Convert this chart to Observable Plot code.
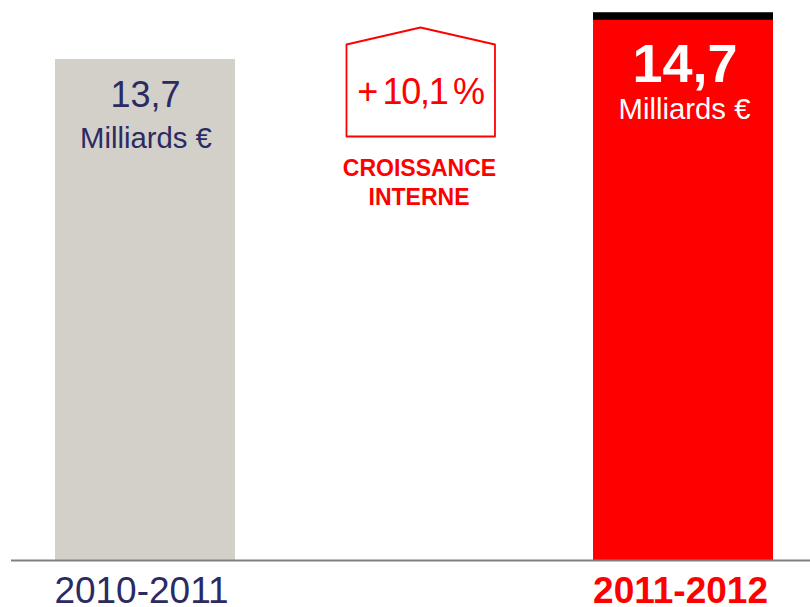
<!DOCTYPE html>
<html><head><meta charset="utf-8">
<script src="https://cdn.jsdelivr.net/npm/d3@7"></script>
<script src="https://cdn.jsdelivr.net/npm/@observablehq/plot@0.6"></script>
<style>html,body{margin:0;padding:0;background:#fff}svg{display:block}.pct{letter-spacing:-.035em;word-spacing:-.09em}</style>
</head><body><div id="c"></div>
<script>
const periods = ["2010-2011", "", "2011-2012"];
const barPeriods = ["2010-2011", "2011-2012"];
const mainValues = [13.7, 14.77];
const capValues = [0, 0.21];
const valueLabels = ["13,7", "14,7"];
const unitLabel = "Milliards €";
const growthLabel = "+ 10,1 %";
const growthCaption = ["CROISSANCE", "INTERNE"];
const RED = "#ff0000", NAVY = "#2b2a63", GREY = "#d2d0c9", FONT = "Liberation Sans";

const bars = barPeriods.map((p, i) => ({p, v: mainValues[i], c: capValues[i]}));
const label = (text, period, y, o) => Plot.text([text], {
  x: () => period, y: () => y, text: d => d, fontFamily: FONT, textAnchor: "middle", ...o
});

const chart = Plot.plot({
  width: 810, height: 607, marginLeft: 11, marginRight: 0, marginTop: 0, marginBottom: 47,
  x: {domain: periods, range: [55, 773], paddingInner: 0.331, paddingOuter: 0, round: false, axis: null},
  y: {domain: [0, 15], range: [560, 11.5], axis: null},
  marks: [
    Plot.barY(bars, {x: "p", y1: 0, y2: "v", fill: d => d.p === barPeriods[0] ? GREY : RED}),
    Plot.barY([bars[1]], {x: "p", y1: "v", y2: d => d.v + d.c, fill: "#000000"}),
    Plot.ruleY([0], {stroke: "#808080", strokeWidth: 2}),
    label(valueLabels[0], barPeriods[0], mainValues[0], {dy: 36, fontSize: 36, fill: NAVY}),
    label(unitLabel, barPeriods[0], mainValues[0], {dy: 79, dx: 0.5, fontSize: 29.3, fill: NAVY}),
    label(valueLabels[1], barPeriods[1], mainValues[1] + capValues[1], {dy: 52, dx: 1.5, fontSize: 54, fontWeight: "bold", fill: "#ffffff"}),
    label(unitLabel, barPeriods[1], mainValues[1] + capValues[1], {dy: 97, dx: 1, fontSize: 29.3, fill: "#ffffff"}),
    // the band scale adds half a bandwidth to x, which dx takes back
    Plot.line([[346, 44], [420, 27], [494.5, 44], [494.5, 136], [346, 136]], {
      x: {value: d => d[0], scale: null}, y: {value: d => d[1], scale: null}, dx: -90,
      curve: "linear-closed", stroke: RED, strokeWidth: 1.8, fill: "none"
    }),
    label(growthLabel, "", 12.8, {dy: 0, dx: 6, fontSize: 36, fill: RED, className: "pct"}),
    label(growthCaption[0], "", 10.7, {dx: 5, dy: -1, fontSize: 23, fontWeight: "bold", fill: RED}),
    label(growthCaption[1], "", 9.9, {dx: 4.5, dy: -1, fontSize: 23, fontWeight: "bold", fill: RED}),
    label(barPeriods[0], barPeriods[0], 0, {dy: 31, dx: -4, fontSize: 37, fill: NAVY}),
    label(barPeriods[1], barPeriods[1], 0, {dy: 31, dx: -3, fontSize: 37, fontWeight: "bold", fill: RED})
  ]
});
document.getElementById("c").append(chart);
</script></body></html>
